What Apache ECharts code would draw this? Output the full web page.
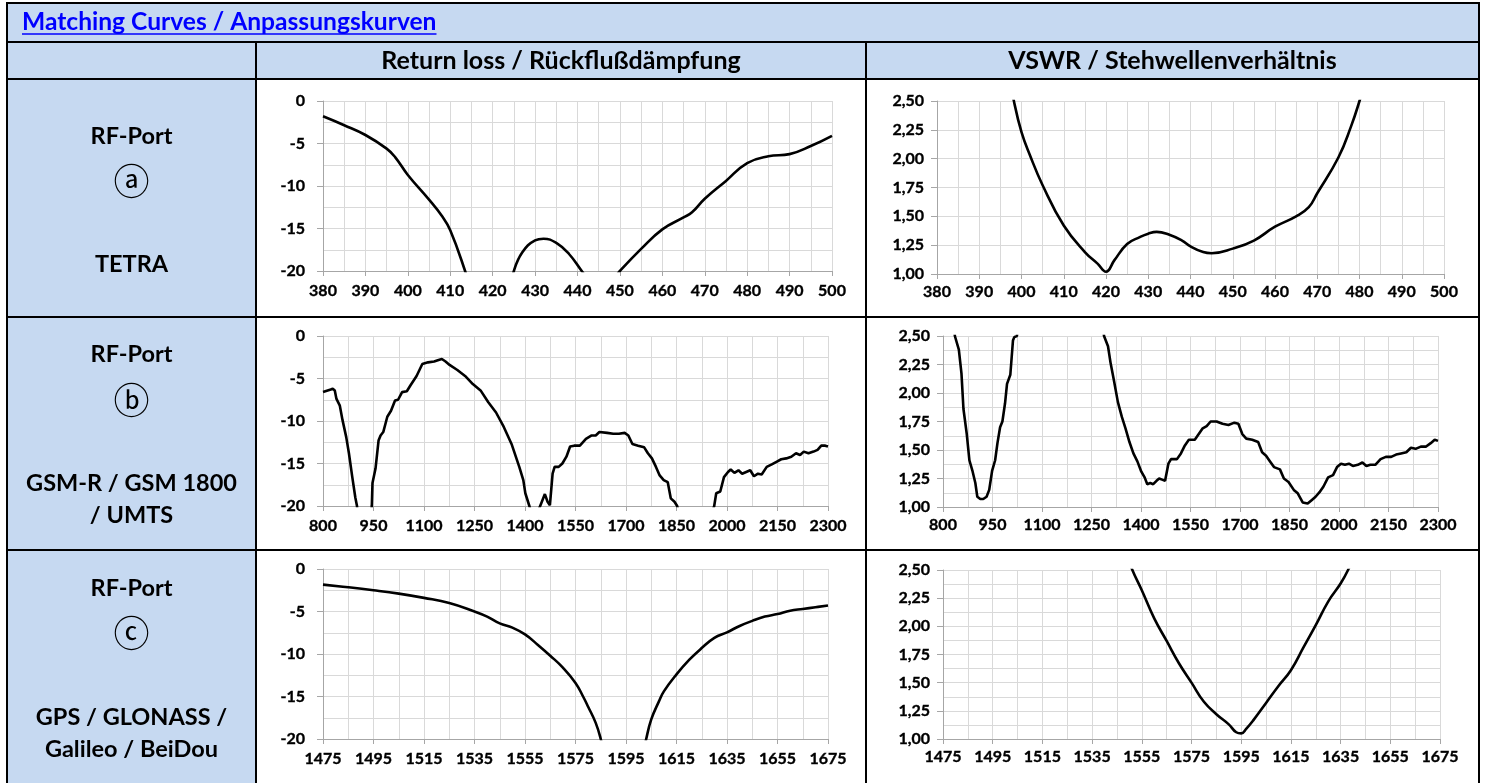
<!DOCTYPE html>
<html>
<head>
<meta charset="utf-8">
<script src="https://cdn.jsdelivr.net/npm/echarts@6/dist/echarts.min.js"></script>
<style>
html,body{margin:0;padding:0;background:#fff;}
#main{width:1488px;height:783px;}
</style>
</head>
<body>
<div id="main"></div>
<script>
// ---------- texts ----------
const titleText = 'Matching Curves / Anpassungskurven';
const colHeaders = ['Return loss / Rückflußdämpfung', 'VSWR / Stehwellenverhältnis'];
const rowLabels = [
  ['RF-Port', 'ⓐ', ['TETRA']],
  ['RF-Port', 'ⓑ', ['GSM-R / GSM 1800', '/ UMTS']],
  ['RF-Port', 'ⓒ', ['GPS / GLONASS /', 'Galileo / BeiDou']]
];

// ---------- axes ----------
const xRangeA = [380, 500, 10];
const xRangeB = [800, 2300, 150];
const xRangeC = [1475, 1675, 20];
const yRangeRL = [-20, 0, 5];
const yRangeVSWR = [1, 2.5, 0.25];

// ---------- data: Row a (TETRA) ----------
const rlA_f = [380,385,390,395,397,400,405,408,410,413.5,416,418,420,422,424,425,427,430,432,435,438,441,443,445,448,450,455,460,465,467,470,475,480,485,490,495,500];
const rlA_v = [-1.8,-2.85,-4.0,-5.6,-6.6,-8.7,-11.6,-13.5,-15.2,-20,-24,-29,-38,-28,-22.5,-20,-17.8,-16.4,-16.2,-16.7,-18,-20,-21.3,-21.8,-21.2,-20,-17.4,-15.1,-13.7,-13.1,-11.5,-9.4,-7.3,-6.5,-6.25,-5.3,-4.1];
const vsA_f = [395,398.2,400,402,405,410,415,418,420,422,425,428,430,432,435,438,440,443,445,450,455,460,465,468,470,475,478,480,482];
const vsA_v = [3.1,2.5,2.23,2.03,1.77,1.42,1.19,1.09,1.02,1.12,1.26,1.32,1.35,1.365,1.34,1.29,1.24,1.19,1.18,1.22,1.29,1.41,1.50,1.58,1.70,2.01,2.28,2.50,2.75];

// ---------- data: Row b (GSM-R / GSM 1800 / UMTS) ----------
const rlB_f = [800,823,829,835,840,850,858,869,877,887,896,901,910,920,930,940,945,947,956,965,971,979,991,1002,1014,1023,1035,1049,1060,1078,1095,1112,1130,1141,1153,1164,1176,1199,1222,1245,1268,1291,1314,1337,1360,1383,1395,1401,1413,1420,1430,1440,1448,1459,1467,1474,1482,1488,1500,1511,1523,1534,1546,1563,1581,1598,1610,1621,1644,1662,1679,1696,1707,1719,1736,1754,1765,1777,1789,1800,1812,1824,1833,1844,1852,1870,1890,1910,1930,1950,1962,1968,1980,1991,2003,2011,2022,2034,2045,2057,2069,2080,2092,2103,2118,2133,2147,2161,2176,2191,2205,2217,2228,2242,2257,2269,2280,2292,2300];
const rlB_v = [-6.6,-6.3,-6.2,-6.4,-7.4,-8.2,-9.9,-11.9,-13.8,-16.6,-19,-20,-26,-29,-27,-22,-20,-17.3,-15.6,-12.3,-11.7,-11.3,-9.5,-8.8,-7.6,-7.5,-6.6,-6.5,-5.8,-4.7,-3.3,-3.1,-3.0,-2.85,-2.7,-3.0,-3.4,-4.0,-4.7,-5.65,-6.4,-7.8,-9.0,-10.7,-12.7,-15.4,-16.95,-18.5,-20,-21,-21.8,-20.5,-19.7,-18.6,-19.5,-19.9,-16.2,-15.4,-15.4,-15.0,-14.2,-13.0,-12.9,-12.9,-12.1,-11.7,-11.7,-11.3,-11.4,-11.5,-11.5,-11.4,-11.7,-12.7,-12.9,-13.1,-13.8,-14.4,-15.4,-16.4,-16.95,-17.2,-19.1,-19.5,-20,-23,-28,-34,-26,-21.5,-20,-18.5,-18.3,-16.6,-16.0,-15.7,-16.1,-15.8,-16.2,-16.0,-15.8,-16.5,-16.2,-16.3,-15.4,-15.1,-14.8,-14.5,-14.4,-14.2,-13.8,-14.0,-13.6,-13.8,-13.6,-13.4,-12.9,-12.9,-13.0];
const vsB_f = [825,836,848,856,862,872,880,889,898,904,913,922,932,940,949,958,965,973,980,988,994,1004,1012,1016,1024,1032,1060,1150,1250,1280,1288,1300,1308,1318,1330,1342,1353,1365,1377,1389,1401,1411,1419,1428,1437,1447,1455,1464,1473,1483,1491,1509,1521,1533,1545,1563,1575,1587,1599,1611,1629,1647,1665,1683,1695,1707,1719,1737,1755,1767,1779,1791,1803,1821,1833,1847,1863,1875,1890,1905,1917,1929,1941,1953,1967,1982,1994,2006,2018,2030,2042,2057,2071,2083,2095,2110,2126,2142,2158,2173,2188,2204,2218,2232,2248,2264,2278,2290,2300];
const vsB_v = [2.9,2.5,2.38,2.17,1.86,1.64,1.41,1.32,1.21,1.09,1.07,1.07,1.09,1.15,1.32,1.41,1.56,1.70,1.75,1.91,2.08,2.16,2.46,2.49,2.5,2.75,3.6,5.8,3.4,2.7,2.5,2.41,2.26,2.11,1.92,1.79,1.69,1.57,1.47,1.40,1.31,1.26,1.20,1.21,1.20,1.23,1.25,1.24,1.23,1.38,1.42,1.42,1.47,1.54,1.59,1.59,1.64,1.69,1.71,1.75,1.75,1.73,1.72,1.74,1.73,1.64,1.60,1.59,1.57,1.48,1.45,1.40,1.35,1.33,1.25,1.22,1.15,1.12,1.04,1.03,1.06,1.09,1.13,1.18,1.26,1.28,1.35,1.38,1.37,1.38,1.36,1.37,1.39,1.36,1.37,1.37,1.42,1.44,1.44,1.46,1.47,1.48,1.52,1.51,1.53,1.53,1.56,1.59,1.58];

// ---------- data: Row c (GPS / GLONASS / Galileo / BeiDou) ----------
const rlC_f = [1475,1485,1495,1505,1515,1525,1535,1540,1545,1550,1555,1560,1565,1570,1575,1578,1580,1583,1585,1590,1595,1600,1603,1605,1608,1610,1615,1620,1625,1630,1635,1640,1645,1650,1655,1660,1665,1670,1675];
const rlC_v = [-1.84,-2.15,-2.5,-2.9,-3.4,-4.0,-5.0,-5.6,-6.4,-6.9,-7.7,-8.9,-10.2,-11.6,-13.4,-15.0,-16.2,-18.1,-20,-26,-32,-24,-20,-17.7,-15.6,-14.4,-12.4,-10.7,-9.3,-8.1,-7.45,-6.7,-6.1,-5.6,-5.3,-4.9,-4.7,-4.5,-4.3];
const vsC_f = [1545,1551.2,1555,1560,1565,1570,1575,1580,1585,1590,1593,1595,1597,1600,1605,1610,1615,1620,1625,1630,1635,1638,1642];
const vsC_v = [2.85,2.5,2.32,2.07,1.87,1.67,1.50,1.33,1.22,1.13,1.06,1.05,1.09,1.17,1.32,1.47,1.61,1.81,2.01,2.22,2.38,2.50,2.7];

// ---------- layout (style only) ----------
const TL = 7, TR = 1479, C1 = 256, C2 = 866;
const T0 = 3, Y1 = 42, Y2 = 79, Y3 = 317, Y4 = 550, TB = 800;
const BLUE = '#c6d9f1';
const FONT = 'Lato';

const charts = [
  {grid:{left:323,top:101,width:509,height:170}, x:xRangeA, y:yRangeRL, f:rlA_f, v:rlA_v, smooth:0.45, ymin:true, ymargin:18, xmargin:12},
  {grid:{left:937,top:101,width:507,height:173}, x:xRangeA, y:yRangeVSWR, f:vsA_f, v:vsA_v, smooth:0.45, ymin:false, ymargin:13, xmargin:10},
  {grid:{left:323,top:336,width:505,height:170}, x:xRangeB, y:yRangeRL, f:rlB_f, v:rlB_v, smooth:false, ymin:true, ymargin:18, xmargin:12},
  {grid:{left:943,top:336,width:495,height:171}, x:xRangeB, y:yRangeVSWR, f:vsB_f, v:vsB_v, smooth:false, ymin:true, ymargin:13, xmargin:10},
  {grid:{left:323,top:569,width:505,height:170}, x:xRangeC, y:yRangeRL, f:rlC_f, v:rlC_v, smooth:0.45, ymin:true, ymargin:18, xmargin:12},
  {grid:{left:943,top:570,width:497,height:169}, x:xRangeC, y:yRangeVSWR, f:vsC_f, v:vsC_v, smooth:0.45, ymin:true, ymargin:13, xmargin:10}
];

const AXIS_C = '#a6a6a6', GRID_C = '#d9d9d9';
const labelStyle = {color:'#000', fontWeight:'bold', fontFamily:FONT, fontSize:16, textBorderColor:'#000', textBorderWidth:0.35};

const grids = [], xAxes = [], yAxes = [], series = [];
charts.forEach((c, i) => {
  grids.push(Object.assign({containLabel:false}, c.grid));
  const [x0, x1, xi] = c.x;
  // visible axis, counted from 0 so that ticks fall on x0, x0+xi, ...
  xAxes.push({
    gridIndex:i, type:'value', min:0, max:x1 - x0, interval:xi, position:'bottom',
    axisLine:{show:true, onZero:false, lineStyle:{color:AXIS_C, width:1}},
    axisTick:{show:true, length:5, lineStyle:{color:AXIS_C}},
    axisLabel:Object.assign({margin:c.xmargin, formatter:(val) => String(Math.round(val + x0))}, labelStyle),
    splitLine:{show:true, lineStyle:{color:GRID_C, width:1}},
    minorTick:{show:false, splitNumber:2},
    minorSplitLine:{show:true, lineStyle:{color:GRID_C, width:1}}
  });
  // data axis (real frequency), hidden
  xAxes.push({gridIndex:i, type:'value', min:x0, max:x1, show:false});
  const [y0, y1, yi] = c.y;
  const isV = y0 > 0;
  yAxes.push({
    gridIndex:i, type:'value', min:y0, max:y1, interval:yi,
    axisLine:{show:true, onZero:false, lineStyle:{color:AXIS_C, width:1}},
    axisTick:{show:true, length:6, lineStyle:{color:AXIS_C}},
    axisLabel:Object.assign({margin:c.ymargin, formatter:(val) => isV ? val.toFixed(2).replace('.', ',') : String(Math.round(val))}, labelStyle),
    splitLine:{show:true, lineStyle:{color:GRID_C, width:1}},
    minorTick:{show:false, splitNumber:2},
    minorSplitLine:{show:c.ymin, lineStyle:{color:GRID_C, width:1}}
  });
  series.push({
    type:'line', xAxisIndex:2 * i + 1, yAxisIndex:i,
    data:c.f.map((fx, k) => [fx, c.v[k]]),
    showSymbol:false, smooth:c.smooth, clip:true,
    lineStyle:{color:'#000', width:2.6}, silent:true, z:5
  });
});

// ---------- table graphics ----------
const mctx = document.createElement('canvas').getContext('2d');
const titleFont = 'bold 24.6px ' + FONT;
mctx.font = titleFont;
const titleW = mctx.measureText(titleText).width;

const g = [];
g.push({type:'rect', shape:{x:TL, y:T0, width:TR - TL, height:Y2 - T0}, style:{fill:BLUE}, z:0});
g.push({type:'rect', shape:{x:TL, y:Y2, width:C1 - TL, height:TB - Y2}, style:{fill:BLUE}, z:0});
const hl = (y, x0, x1) => g.push({type:'line', shape:{x1:x0, y1:y, x2:x1, y2:y}, style:{stroke:'#000', lineWidth:2}, z:1});
const vl = (x, y0, y1) => g.push({type:'line', shape:{x1:x, y1:y0, x2:x, y2:y1}, style:{stroke:'#000', lineWidth:2}, z:1});
[T0, Y1, Y2, Y3, Y4].forEach(y => hl(y, TL - 1, TR + 1));
vl(TL, T0 - 1, TB); vl(TR, T0 - 1, TB); vl(C1, Y1, TB); vl(C2, Y1, TB);

g.push({type:'text', x:22, y:22, style:{text:titleText, font:titleFont, fill:'#0000ff', textAlign:'left', textVerticalAlign:'middle'}, z:2});
g.push({type:'line', shape:{x1:22, y1:34, x2:22 + titleW, y2:34}, style:{stroke:'#0000ff', lineWidth:1.6}, z:2});

const headFont = 'bold 25px ' + FONT;
const labFont = 'bold 23.5px ' + FONT;
g.push({type:'text', x:(C1 + C2) / 2, y:61, style:{text:colHeaders[0], font:headFont, fill:'#000', textAlign:'center', textVerticalAlign:'middle'}, z:2});
g.push({type:'text', x:(C2 + TR) / 2, y:61, style:{text:colHeaders[1], font:headFont, fill:'#000', textAlign:'center', textVerticalAlign:'middle'}, z:2});

const rowTextY = [[136, 181, [264]], [354, 400, [483, 515]], [588, 633, [717, 749]]];
const cx = (TL + C1) / 2;
rowLabels.forEach((r, i) => {
  const ty = rowTextY[i];
  g.push({type:'text', x:cx, y:ty[0], style:{text:r[0], font:labFont, fill:'#000', textAlign:'center', textVerticalAlign:'middle'}, z:2});
  g.push({type:'text', x:cx, y:ty[1], style:{text:r[1], font:'normal 36px "Noto Sans CJK JP"', fill:'#000', textAlign:'center', textVerticalAlign:'middle'}, z:2});
  r[2].forEach((t, k) => {
    g.push({type:'text', x:cx, y:ty[2][k], style:{text:t, font:labFont, fill:'#000', textAlign:'center', textVerticalAlign:'middle'}, z:2});
  });
});

const chart = echarts.init(document.getElementById('main'), null, {renderer:'canvas'});
chart.setOption({
  backgroundColor:'#fff',
  animation:false,
  graphic:{elements:g},
  grid:grids, xAxis:xAxes, yAxis:yAxes, series:series
});
</script>
</body>
</html>
